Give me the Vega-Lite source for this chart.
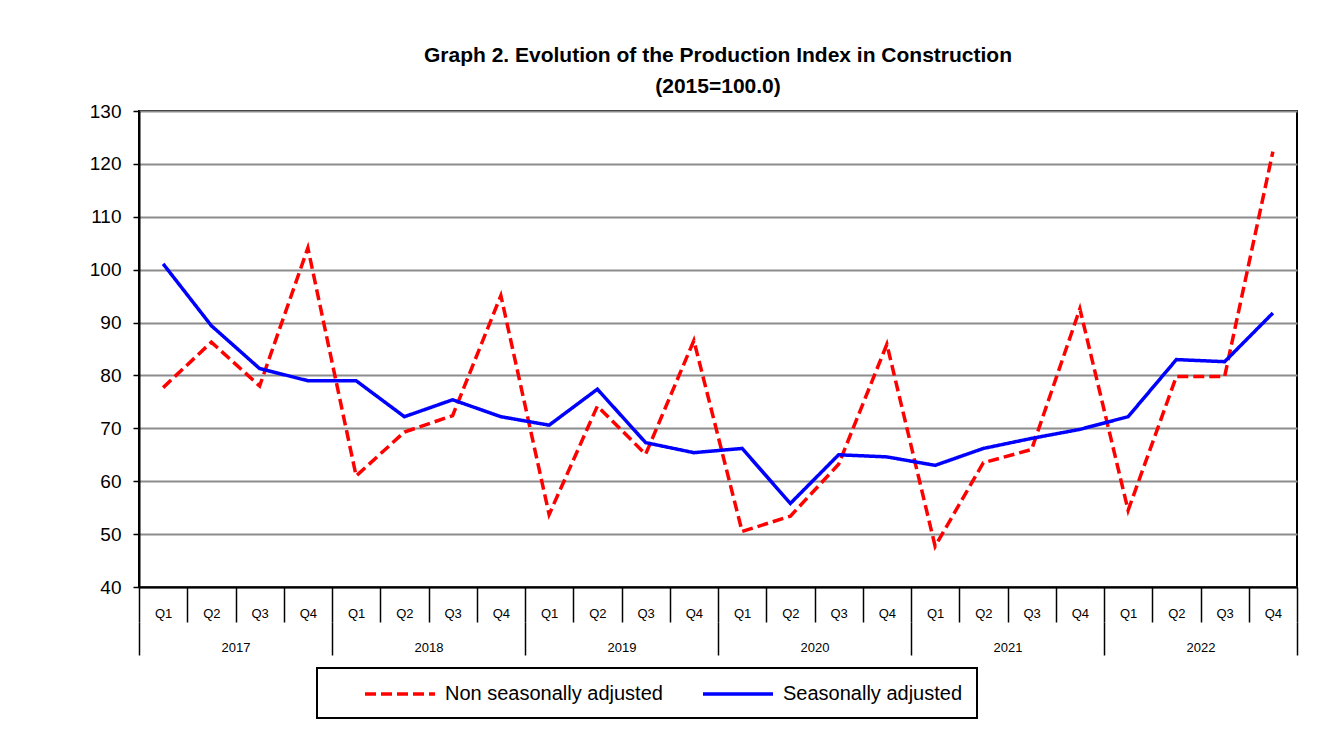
{
 "$schema": "https://vega.github.io/schema/vega-lite/v6.json",
 "width": 1158,
 "height": 476,
 "autosize": {"type": "none"},
 "padding": {"left": 139, "top": 111, "right": 44, "bottom": 162},
 "background": "white",
 "title": {
  "text": ["Graph 2. Evolution of the Production Index in Construction", "(2015=100.0)"],
  "font": "Liberation Sans",
  "fontSize": 21,
  "fontWeight": "bold",
  "color": "black",
  "lineHeight": 31,
  "offset": 5,
  "anchor": "middle"
 },
 "config": {
  "view": {"stroke": "black", "strokeWidth": 2},
  "font": "Liberation Sans"
 },
 "data": {
  "values": [
   {"period": "2017 Q1", "year": "2017", "series": "Non seasonally adjusted", "value": 77.7},
   {"period": "2017 Q2", "year": "2017", "series": "Non seasonally adjusted", "value": 86.3},
   {"period": "2017 Q3", "year": "2017", "series": "Non seasonally adjusted", "value": 78.0},
   {"period": "2017 Q4", "year": "2017", "series": "Non seasonally adjusted", "value": 104.1},
   {"period": "2018 Q1", "year": "2018", "series": "Non seasonally adjusted", "value": 61.0},
   {"period": "2018 Q2", "year": "2018", "series": "Non seasonally adjusted", "value": 69.3},
   {"period": "2018 Q3", "year": "2018", "series": "Non seasonally adjusted", "value": 72.4},
   {"period": "2018 Q4", "year": "2018", "series": "Non seasonally adjusted", "value": 95.1},
   {"period": "2019 Q1", "year": "2019", "series": "Non seasonally adjusted", "value": 53.7},
   {"period": "2019 Q2", "year": "2019", "series": "Non seasonally adjusted", "value": 74.2},
   {"period": "2019 Q3", "year": "2019", "series": "Non seasonally adjusted", "value": 65.1},
   {"period": "2019 Q4", "year": "2019", "series": "Non seasonally adjusted", "value": 86.6},
   {"period": "2020 Q1", "year": "2020", "series": "Non seasonally adjusted", "value": 50.5},
   {"period": "2020 Q2", "year": "2020", "series": "Non seasonally adjusted", "value": 53.4},
   {"period": "2020 Q3", "year": "2020", "series": "Non seasonally adjusted", "value": 63.2},
   {"period": "2020 Q4", "year": "2020", "series": "Non seasonally adjusted", "value": 85.9},
   {"period": "2021 Q1", "year": "2021", "series": "Non seasonally adjusted", "value": 47.7},
   {"period": "2021 Q2", "year": "2021", "series": "Non seasonally adjusted", "value": 63.5},
   {"period": "2021 Q3", "year": "2021", "series": "Non seasonally adjusted", "value": 66.0},
   {"period": "2021 Q4", "year": "2021", "series": "Non seasonally adjusted", "value": 92.6},
   {"period": "2022 Q1", "year": "2022", "series": "Non seasonally adjusted", "value": 54.5},
   {"period": "2022 Q2", "year": "2022", "series": "Non seasonally adjusted", "value": 79.8},
   {"period": "2022 Q3", "year": "2022", "series": "Non seasonally adjusted", "value": 79.8},
   {"period": "2022 Q4", "year": "2022", "series": "Non seasonally adjusted", "value": 122.3},
   {"period": "2017 Q1", "year": "2017", "series": "Seasonally adjusted", "value": 101.1},
   {"period": "2017 Q2", "year": "2017", "series": "Seasonally adjusted", "value": 89.4},
   {"period": "2017 Q3", "year": "2017", "series": "Seasonally adjusted", "value": 81.3},
   {"period": "2017 Q4", "year": "2017", "series": "Seasonally adjusted", "value": 79.0},
   {"period": "2018 Q1", "year": "2018", "series": "Seasonally adjusted", "value": 79.0},
   {"period": "2018 Q2", "year": "2018", "series": "Seasonally adjusted", "value": 72.2},
   {"period": "2018 Q3", "year": "2018", "series": "Seasonally adjusted", "value": 75.4},
   {"period": "2018 Q4", "year": "2018", "series": "Seasonally adjusted", "value": 72.2},
   {"period": "2019 Q1", "year": "2019", "series": "Seasonally adjusted", "value": 70.6},
   {"period": "2019 Q2", "year": "2019", "series": "Seasonally adjusted", "value": 77.4},
   {"period": "2019 Q3", "year": "2019", "series": "Seasonally adjusted", "value": 67.3},
   {"period": "2019 Q4", "year": "2019", "series": "Seasonally adjusted", "value": 65.4},
   {"period": "2020 Q1", "year": "2020", "series": "Seasonally adjusted", "value": 66.2},
   {"period": "2020 Q2", "year": "2020", "series": "Seasonally adjusted", "value": 55.8},
   {"period": "2020 Q3", "year": "2020", "series": "Seasonally adjusted", "value": 65.0},
   {"period": "2020 Q4", "year": "2020", "series": "Seasonally adjusted", "value": 64.6},
   {"period": "2021 Q1", "year": "2021", "series": "Seasonally adjusted", "value": 63.0},
   {"period": "2021 Q2", "year": "2021", "series": "Seasonally adjusted", "value": 66.2},
   {"period": "2021 Q3", "year": "2021", "series": "Seasonally adjusted", "value": 68.1},
   {"period": "2021 Q4", "year": "2021", "series": "Seasonally adjusted", "value": 69.8},
   {"period": "2022 Q1", "year": "2022", "series": "Seasonally adjusted", "value": 72.2},
   {"period": "2022 Q2", "year": "2022", "series": "Seasonally adjusted", "value": 83.0},
   {"period": "2022 Q3", "year": "2022", "series": "Seasonally adjusted", "value": 82.6},
   {"period": "2022 Q4", "year": "2022", "series": "Seasonally adjusted", "value": 91.8}
  ]
 },
 "layer": [
  {
   "mark": {"type": "line", "strokeWidth": 3.5, "strokeJoin": "miter"},
   "encoding": {
    "x": {
     "field": "period", "type": "ordinal", "bandPosition": 0.5,
     "scale": {"type": "band", "paddingInner": 0, "paddingOuter": 0},
     "axis": {
      "title": null, "orient": "bottom",
      "labelExpr": "datum.value ? substring(datum.value, 5) : ''",
      "labelAngle": 0, "labelFontSize": 13, "labelColor": "black",
      "labelBaseline": "middle", "labelPadding": -9,
      "tickBand": "extent", "tickSize": 35, "tickColor": "black", "tickWidth": 1.5,
      "domainColor": "black", "domainWidth": 2, "grid": false
     }
    },
    "y": {
     "field": "value", "type": "quantitative",
     "scale": {"domain": [40, 130], "nice": false, "zero": false},
     "axis": {
      "title": null,
      "values": [40, 50, 60, 70, 80, 90, 100, 110, 120, 130],
      "labelFontSize": 19, "labelColor": "black", "labelPadding": 12,
      "tickSize": 6, "tickColor": "black", "tickWidth": 1.5,
      "domainColor": "black", "domainWidth": 2,
      "grid": true, "gridColor": "#8c8c8c", "gridWidth": 1.8
     }
    },
    "color": {
     "field": "series", "type": "nominal",
     "scale": {"domain": ["Non seasonally adjusted", "Seasonally adjusted"], "range": ["#FF0000", "#0000FF"]},
     "legend": {
      "title": null, "orient": "none", "legendX": 178, "legendY": 557,
      "direction": "horizontal", "symbolType": "M-3.5,0H3.5", "symbolSize": 400,
      "symbolStrokeWidth": 3.5, "labelFontSize": 20, "labelColor": "black",
      "labelLimit": 400, "labelOffset": 33, "columnPadding": 6, "padding": 14, "symbolOffset": 57,
      "strokeColor": "black", "fillColor": "white",
      "encode": {"legend": {"update": {"strokeWidth": {"value": 2}}}}
     }
    },
    "strokeDash": {
     "field": "series", "type": "nominal",
     "scale": {"domain": ["Non seasonally adjusted", "Seasonally adjusted"], "range": [[11, 5], [1, 0]]},
     "legend": {
      "title": null, "orient": "none", "legendX": 178, "legendY": 557,
      "direction": "horizontal", "symbolType": "M-3.5,0H3.5", "symbolSize": 400,
      "symbolStrokeWidth": 3.5, "labelFontSize": 20, "labelColor": "black",
      "labelLimit": 400, "labelOffset": 33, "columnPadding": 6, "padding": 14, "symbolOffset": 57,
      "strokeColor": "black", "fillColor": "white",
      "encode": {"legend": {"update": {"strokeWidth": {"value": 2}}}}
     }
    }
   }
  },
  {
   "mark": {"type": "text", "opacity": 0},
   "encoding": {
    "x": {
     "field": "year", "type": "ordinal",
     "scale": {"type": "band", "paddingInner": 0, "paddingOuter": 0},
     "axis": {
      "title": null, "orient": "bottom", "offset": 35,
      "labelAngle": 0, "labelFontSize": 13, "labelColor": "black",
      "labelBaseline": "middle", "labelPadding": -8,
      "tickBand": "extent", "tickSize": 33, "tickColor": "black", "tickWidth": 1.5,
      "domain": false, "grid": false
     }
    },
    "text": {"value": ""}
   }
  }
 ],
 "resolve": {"scale": {"x": "independent"}, "axis": {"x": "independent"}}
}
